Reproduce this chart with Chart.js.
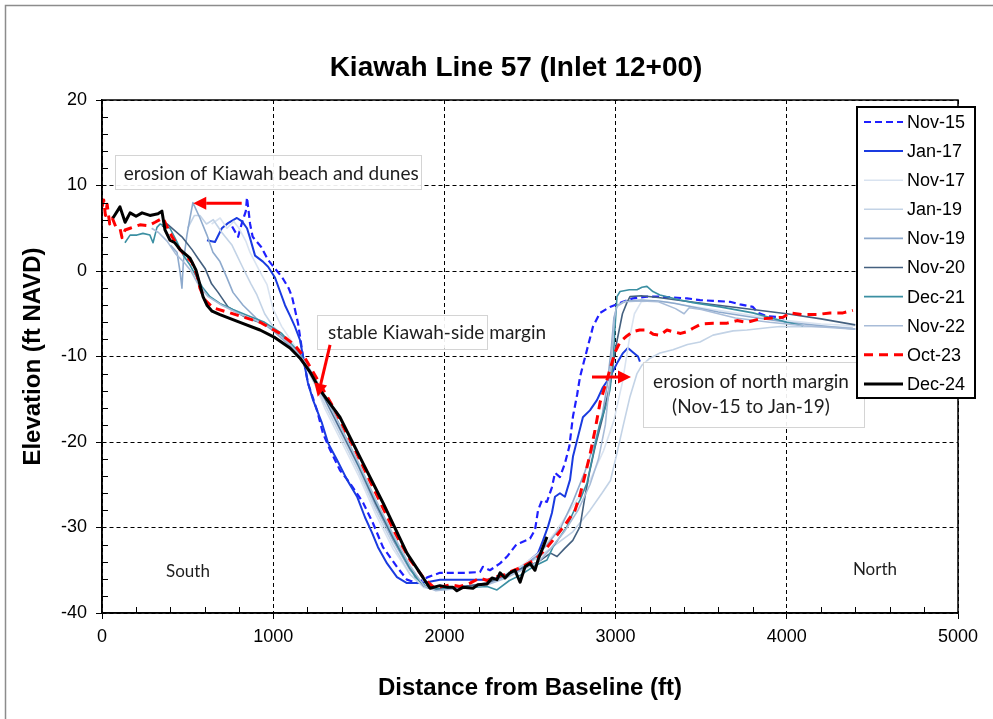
<!DOCTYPE html>
<html>
<head>
<meta charset="utf-8">
<script src="https://cdn.jsdelivr.net/npm/chart.js@4.4.1/dist/chart.umd.min.js"></script>
<style>
  html, body { margin: 0; padding: 0; background: #fff; }
  canvas { display: block; }
</style>
</head>
<body>
<canvas id="profile" width="993" height="719"></canvas>
<script>
// Survey names, in legend order
const surveys = ['Nov-15', 'Jan-17', 'Nov-17', 'Jan-19', 'Nov-19', 'Nov-20', 'Dec-21', 'Nov-22', 'Oct-23', 'Dec-24'];

// Axis tick values
const xTickValues = [0, 1000, 2000, 3000, 4000, 5000];
const yTickValues = [-40, -30, -20, -10, 0, 10, 20];

// Profiles: [distance from baseline (ft), elevation (ft NAVD)]
const nov15 = [[760,5.2],[795,4.0],[820,5.8],[840,7.0],[847,8.6],[865,5.5],[880,4.0],[930,2.8],[970,1.3],[1010,0.3],[1051,-0.7],[1090,-2.0],[1110,-3.0],[1145,-6.1],[1174,-10.0],[1203,-13.1],[1256,-16.3],[1291,-19.0],[1332,-20.9],[1390,-23.3],[1448,-24.8],[1525,-27.1],[1583,-29.5],[1641,-32.3],[1723,-34.6],[1781,-36.1],[1840,-36.5],[1904,-35.8],[1974,-35.3],[2050,-35.3],[2132,-35.3],[2208,-35.2],[2225,-34.6],[2266,-35.0],[2325,-34.2],[2366,-33.4],[2420,-32.0],[2442,-31.8],[2500,-31.3],[2529,-30.3],[2547,-28.0],[2570,-26.8],[2599,-27.0],[2628,-25.3],[2646,-23.6],[2675,-24.1],[2704,-22.5],[2730,-20.5],[2751,-17.0],[2775,-14.5],[2792,-12.4],[2833,-9.2],[2868,-6.5],[2909,-4.9],[2967,-4.2],[3043,-3.6],[3101,-3.2],[3183,-3.0],[3259,-3.0],[3340,-3.1],[3417,-3.2],[3493,-3.4],[3569,-3.5],[3668,-3.6],[3727,-3.9],[3802,-4.2],[3832,-4.9],[3884,-5.3],[3960,-5.4],[4000,-6.1]];
const jan17 = [[613,3.6],[660,3.4],[700,5.0],[736,5.6],[788,6.2],[818,5.8],[847,5.0],[864,3.9],[894,1.8],[940,1.1],[970,0.5],[1011,-0.8],[1040,-2.4],[1069,-4.0],[1100,-5.3],[1127,-6.5],[1157,-8.1],[1174,-10.0],[1203,-13.1],[1233,-15.1],[1285,-17.8],[1320,-20.1],[1373,-22.1],[1431,-24.4],[1490,-26.4],[1536,-28.8],[1577,-30.6],[1612,-32.3],[1665,-34.2],[1723,-35.8],[1781,-36.5],[1840,-36.5],[1898,-36.4],[1974,-36.1],[2050,-36.1],[2132,-36.1],[2249,-36.1],[2325,-35.9],[2383,-35.3],[2442,-35.0],[2500,-33.8],[2547,-33.0],[2576,-31.5],[2605,-29.9],[2628,-28.3],[2646,-26.4],[2675,-26.0],[2704,-26.4],[2734,-24.4],[2751,-21.7],[2780,-19.4],[2809,-17.1],[2850,-16.3],[2891,-15.1],[2926,-13.6],[2967,-12.4],[3008,-10.8],[3043,-9.6],[3072,-9.0],[3101,-9.5],[3131,-10.0],[3142,-10.6]];
const nov17 = [[640,5.5],[690,6.2],[730,5.0],[770,5.8],[800,5.0],[840,3.5],[864,2.2],[900,0.8],[923,-0.1],[964,-1.6],[1000,-4.5],[1050,-6.5],[1100,-8.0],[1150,-9.5],[1200,-11.5],[1250,-13.5],[1300,-16.0],[1400,-20.0],[1500,-24.0],[1600,-28.5],[1700,-32.5],[1800,-35.5],[1880,-36.8],[1950,-37.2],[2050,-37.0],[2150,-36.8],[2250,-36.5],[2350,-35.5],[2450,-34.5],[2550,-33.0],[2650,-30.5],[2750,-27.5],[2850,-24.5],[2930,-21.0],[2990,-17.5],[3040,-13.0],[3080,-8.0],[3110,-5.0],[3150,-3.6],[3200,-3.5],[3300,-3.6],[3400,-4.0],[3600,-4.6],[3800,-5.2],[4000,-5.8],[4200,-6.2],[4400,-6.4]];
const jan19 = [[500,5.0],[540,6.5],[572,6.5],[610,5.5],[650,6.0],[700,4.5],[760,3.0],[820,0.5],[870,-1.5],[905,-2.8],[950,-5.0],[1000,-6.5],[1100,-8.5],[1200,-11.5],[1300,-15.5],[1400,-19.5],[1500,-23.5],[1600,-28.0],[1700,-32.0],[1800,-35.5],[1880,-37.0],[1960,-37.3],[2050,-37.2],[2150,-37.0],[2250,-36.5],[2350,-35.8],[2450,-34.5],[2550,-33.5],[2650,-32.0],[2750,-30.5],[2850,-28.0],[2920,-26.0],[2970,-24.5],[3008,-21.3],[3043,-18.2],[3084,-14.7],[3125,-12.0],[3154,-11.0],[3201,-10.2],[3259,-9.6],[3335,-9.2],[3420,-8.6],[3493,-8.3],[3569,-7.5],[3686,-7.0],[3767,-6.9],[3900,-6.6],[3960,-6.5],[4153,-6.5],[4386,-6.6]];
const nov19 = [[400,3.0],[438,2.2],[456,-0.1],[467,-2.0],[475,1.0],[496,4.2],[514,6.2],[531,8.0],[572,6.2],[613,4.2],[648,2.2],[689,1.1],[730,-0.8],[765,-2.5],[824,-4.0],[900,-5.5],[1000,-7.0],[1100,-8.8],[1200,-11.5],[1300,-15.0],[1400,-19.0],[1500,-23.0],[1600,-27.5],[1700,-31.5],[1800,-35.0],[1880,-36.8],[1950,-37.3],[2050,-37.1],[2150,-36.9],[2250,-36.6],[2350,-35.8],[2450,-34.8],[2530,-33.5],[2600,-32.0],[2680,-30.0],[2750,-27.0],[2820,-23.5],[2880,-20.0],[2920,-17.0],[2950,-13.5],[2975,-9.0],[2990,-5.5],[3010,-4.0],[3060,-3.5],[3150,-3.4],[3250,-3.5],[3350,-3.8],[3450,-4.2],[3600,-4.8],[3800,-5.4],[4000,-6.0],[4200,-6.4],[4400,-6.8]];
const nov20 = [[350,5.2],[380,5.5],[420,4.8],[467,4.0],[526,2.5],[560,1.5],[602,0.3],[640,-1.5],[678,-2.5],[736,-4.2],[835,-5.4],[935,-6.1],[1011,-6.9],[1100,-8.5],[1200,-11.3],[1300,-14.8],[1400,-18.8],[1500,-22.8],[1600,-27.2],[1700,-31.2],[1800,-34.8],[1880,-36.8],[1950,-37.2],[2050,-37.0],[2150,-36.8],[2250,-36.5],[2350,-35.6],[2450,-34.8],[2550,-34.0],[2620,-33.0],[2658,-33.4],[2700,-32.5],[2750,-31.5],[2792,-29.9],[2821,-26.4],[2850,-23.3],[2880,-20.6],[2926,-17.0],[2970,-13.0],[3000,-9.0],[3040,-5.0],[3066,-3.7],[3084,-3.0],[3150,-2.9],[3250,-3.1],[3400,-3.5],[3600,-4.0],[3800,-4.5],[4000,-5.0],[4200,-5.6],[4400,-6.3]];
const dec21 = [[134,3.3],[164,4.2],[204,4.2],[239,4.4],[280,4.2],[298,3.3],[321,5.1],[339,5.5],[397,5.0],[438,3.4],[473,1.9],[514,0.7],[555,-0.8],[590,-2.0],[631,-3.0],[689,-3.8],[765,-4.5],[850,-5.2],[950,-6.0],[1050,-7.3],[1150,-9.5],[1250,-12.8],[1350,-16.5],[1450,-20.5],[1550,-24.8],[1650,-29.0],[1750,-33.0],[1830,-35.8],[1900,-37.0],[1960,-37.2],[2050,-37.1],[2150,-37.0],[2250,-36.9],[2307,-37.3],[2380,-36.2],[2442,-35.6],[2518,-34.6],[2599,-33.8],[2634,-32.3],[2675,-31.1],[2716,-29.9],[2751,-28.3],[2792,-26.8],[2833,-24.8],[2868,-21.5],[2909,-17.8],[2950,-15.4],[2967,-13.9],[2985,-10.8],[2997,-6.5],[3008,-3.0],[3026,-2.4],[3080,-2.2],[3125,-2.2],[3154,-1.9],[3183,-1.8],[3218,-2.4],[3259,-2.8],[3376,-3.4],[3452,-3.7],[3610,-4.2],[3802,-4.9],[4000,-6.0],[4095,-6.4]];
const nov22 = [[290,5.0],[330,4.5],[380,3.5],[430,2.0],[480,1.0],[520,0.0],[560,-1.5],[620,-3.0],[700,-4.0],[800,-5.0],[900,-5.8],[1000,-6.8],[1100,-8.6],[1200,-11.0],[1300,-14.6],[1400,-18.5],[1500,-22.5],[1600,-26.8],[1700,-30.8],[1800,-34.5],[1880,-36.8],[1950,-37.4],[2050,-37.2],[2150,-37.0],[2250,-36.7],[2350,-36.0],[2450,-35.0],[2550,-34.0],[2620,-32.5],[2700,-30.5],[2780,-28.0],[2850,-25.0],[2900,-22.0],[2940,-18.0],[2970,-12.0],[2990,-6.0],[3005,-4.2],[3050,-3.6],[3150,-3.5],[3250,-3.6],[3350,-4.4],[3400,-5.0],[3430,-4.3],[3500,-4.5],[3700,-5.5],[3900,-6.0],[4100,-6.4],[4400,-6.8]];
const oct23 = [[0,7.5],[10,8.3],[20,6.5],[30,7.8],[45,5.5],[60,6.2],[80,5.2],[105,5.0],[117,3.9],[135,4.8],[164,5.0],[222,5.4],[270,5.3],[310,5.7],[356,6.2],[380,5.2],[409,4.0],[456,2.5],[526,1.0],[555,-0.5],[572,-2.0],[602,-3.4],[648,-4.3],[748,-4.9],[923,-6.0],[1040,-7.3],[1127,-8.7],[1186,-10.2],[1244,-12.2],[1361,-16.3],[1478,-20.9],[1595,-25.8],[1711,-30.6],[1800,-33.8],[1887,-36.1],[1945,-37.1],[2033,-36.7],[2090,-36.9],[2150,-36.5],[2208,-35.9],[2250,-36.2],[2296,-35.8],[2340,-35.6],[2383,-35.2],[2430,-34.8],[2471,-34.4],[2529,-33.8],[2588,-32.6],[2646,-31.2],[2704,-29.7],[2763,-28.0],[2792,-26.2],[2821,-23.9],[2850,-21.5],[2880,-18.6],[2909,-15.4],[2950,-12.7],[2997,-9.5],[3026,-8.3],[3066,-7.6],[3101,-7.1],[3140,-6.9],[3183,-6.9],[3220,-7.4],[3259,-7.5],[3300,-6.9],[3335,-7.1],[3380,-7.3],[3417,-7.1],[3452,-6.7],[3500,-6.2],[3569,-6.1],[3610,-6.1],[3651,-6.1],[3709,-5.8],[3767,-6.0],[3843,-5.6],[3919,-5.5],[3978,-5.4],[4019,-4.9],[4095,-5.1],[4176,-5.1],[4252,-4.9],[4328,-4.9],[4386,-4.6]];
const dec24 = [[64,6.2],[105,7.5],[135,5.7],[164,6.8],[199,6.4],[234,6.8],[280,6.5],[327,6.7],[350,7.0],[368,4.8],[397,3.6],[426,3.3],[456,2.5],[514,1.5],[549,0.1],[572,-1.6],[590,-3.0],[613,-4.0],[643,-4.7],[689,-5.1],[806,-6.0],[923,-6.9],[1011,-7.8],[1098,-9.0],[1157,-10.2],[1215,-11.8],[1273,-13.9],[1390,-17.1],[1525,-22.5],[1641,-27.1],[1781,-33.0],[1857,-35.3],[1916,-37.1],[1974,-36.8],[2020,-37.0],[2050,-37.0],[2073,-37.4],[2108,-37.0],[2167,-37.1],[2196,-36.7],[2249,-36.6],[2278,-35.9],[2307,-36.1],[2325,-35.3],[2354,-35.9],[2383,-35.3],[2412,-35.0],[2442,-36.4],[2471,-34.6],[2500,-34.2],[2529,-35.0],[2547,-33.8],[2576,-32.3],[2599,-31.1]];

const profiles = [nov15, jan17, nov17, jan19, nov19, nov20, dec21, nov22, oct23, dec24];

// Line styles per survey
const lineStyles = [
  { color: '#1f1fff', width: 2.2, dash: [7, 4] },
  { color: '#1a3be0', width: 2.0, dash: [] },
  { color: '#d9e3f0', width: 1.6, dash: [] },
  { color: '#c3d3e6', width: 1.6, dash: [] },
  { color: '#8eaacd', width: 1.6, dash: [] },
  { color: '#44607f', width: 1.6, dash: [] },
  { color: '#3b8fa2', width: 1.6, dash: [] },
  { color: '#a8bcd8', width: 1.6, dash: [] },
  { color: '#ff0000', width: 3.0, dash: [9, 6] },
  { color: '#000000', width: 3.0, dash: [] }
];

// Callout notes, positioned in data units
const notes = [
  { box: [76, 1863, 13.6, 9.6], lines: ['erosion of Kiawah beach and dunes'], at: [988, 11.35], align: 'center' },
  { box: [1256, 2249, -5.15, -9.1], lines: ['stable Kiawah-side margin'], at: [1320, -7.25], align: 'left' },
  { box: [3160, 4451, -10.6, -18.25], lines: ['erosion of north margin', '(Nov-15 to Jan-19)'], at: [3791, -13.0], align: 'center' }
];
const arrows = [
  { from: [816, 7.92], to: [533, 7.92] },
  { from: [1332, -8.65], to: [1260, -14.7] },
  { from: [2862, -12.4], to: [3090, -12.4] }
];
const sideLabels = [
  { text: 'South', at: [502, -35.2] },
  { text: 'North', at: [4515, -34.9] }
];

const AXIS_FONT = '"Liberation Sans", Arial, sans-serif';
const NOTE_FONT = 'Lato, "Open Sans", sans-serif';

const datasets = surveys.map((name, i) => ({
  label: name,
  data: profiles[i].map(p => ({ x: p[0], y: p[1] })),
  showLine: true,
  fill: false,
  borderColor: lineStyles[i].color,
  backgroundColor: lineStyles[i].color,
  borderWidth: lineStyles[i].width,
  borderDash: lineStyles[i].dash,
  borderJoinStyle: 'round',
  pointRadius: 0,
  tension: 0,
  order: surveys.length - 1 - i
}));

function drawArrow(ctx, x1, y1, x2, y2) {
  const ang = Math.atan2(y2 - y1, x2 - x1);
  const headLen = 13, headHalf = 6.5;
  const bx = x2 - headLen * Math.cos(ang), by = y2 - headLen * Math.sin(ang);
  ctx.beginPath();
  ctx.moveTo(x1, y1);
  ctx.lineTo(bx, by);
  ctx.stroke();
  ctx.beginPath();
  ctx.moveTo(x2, y2);
  ctx.lineTo(bx + headHalf * Math.sin(ang), by - headHalf * Math.cos(ang));
  ctx.lineTo(bx - headHalf * Math.sin(ang), by + headHalf * Math.cos(ang));
  ctx.closePath();
  ctx.fill();
}

const decorations = {
  id: 'decorations',
  beforeDraw(chart) {
    const ctx = chart.ctx;
    ctx.save();
    ctx.fillStyle = '#ffffff';
    ctx.fillRect(0, 0, chart.width, chart.height);
    ctx.strokeStyle = '#8c8c8c';
    ctx.lineWidth = 1.5;
    ctx.beginPath();
    ctx.moveTo(5.5, chart.height);
    ctx.lineTo(5.5, 5.5);
    ctx.lineTo(chart.width, 5.5);
    ctx.stroke();
    ctx.restore();
  },
  afterDraw(chart) {
    const ctx = chart.ctx;
    const xs = chart.scales.x, ys = chart.scales.y;
    const area = chart.chartArea;
    const X = v => xs.getPixelForValue(v);
    const Y = v => ys.getPixelForValue(v);
    ctx.save();

    // plot frame
    ctx.strokeStyle = '#000';
    ctx.lineWidth = 1.5;
    ctx.strokeRect(area.left, area.top, area.right - area.left, area.bottom - area.top);

    // minor ticks
    ctx.lineWidth = 1;
    ctx.beginPath();
    for (let v = 200; v < 5000; v += 200) {
      if (v % 1000 === 0) continue;
      const px = Math.round(X(v)) + 0.5;
      ctx.moveTo(px, area.bottom);
      ctx.lineTo(px, area.bottom - 6);
    }
    for (let v = -38; v < 20; v += 2) {
      if (v % 10 === 0) continue;
      const py = Math.round(Y(v)) + 0.5;
      ctx.moveTo(area.left, py);
      ctx.lineTo(area.left + 6, py);
    }
    ctx.stroke();

    // chart title
    ctx.fillStyle = '#000';
    ctx.font = 'bold 28px ' + AXIS_FONT;
    ctx.textAlign = 'center';
    ctx.textBaseline = 'middle';
    ctx.fillText('Kiawah Line 57 (Inlet 12+00)', (area.left + area.right) / 2 - 14, 68);

    // callout boxes
    ctx.font = '19px ' + NOTE_FONT;
    notes.forEach(n => {
      const x0 = X(n.box[0]), x1 = X(n.box[1]), y0 = Y(n.box[2]), y1 = Y(n.box[3]);
      ctx.fillStyle = 'rgba(255,255,255,0.92)';
      ctx.fillRect(x0, y0, x1 - x0, y1 - y0);
      ctx.strokeStyle = '#d4d4d4';
      ctx.lineWidth = 1;
      ctx.strokeRect(Math.round(x0) + 0.5, Math.round(y0) + 0.5, Math.round(x1 - x0), Math.round(y1 - y0));
      ctx.fillStyle = '#1e1e1e';
      ctx.textAlign = n.align;
      n.lines.forEach((t, k) => ctx.fillText(t, X(n.at[0]), Y(n.at[1]) + k * 25));
    });

    // red arrows
    ctx.strokeStyle = '#ff0000';
    ctx.fillStyle = '#ff0000';
    ctx.lineWidth = 3;
    arrows.forEach(a => drawArrow(ctx, X(a.from[0]), Y(a.from[1]), X(a.to[0]), Y(a.to[1])));

    // South / North
    ctx.fillStyle = '#1e1e1e';
    ctx.textAlign = 'center';
    ctx.font = '17px ' + NOTE_FONT;
    sideLabels.forEach(s => ctx.fillText(s.text, X(s.at[0]), Y(s.at[1])));

    // legend
    const L = area.right - 101, T = area.top + 7, W = 118, H = 291;
    ctx.fillStyle = '#fff';
    ctx.fillRect(L, T, W, H);
    ctx.strokeStyle = '#000';
    ctx.lineWidth = 2;
    ctx.strokeRect(L, T, W, H);
    ctx.font = '18px ' + AXIS_FONT;
    ctx.textAlign = 'left';
    chart.data.datasets.forEach((ds, i) => {
      const cy = T + 15 + i * 29.1;
      ctx.save();
      ctx.strokeStyle = ds.borderColor;
      ctx.lineWidth = ds.borderWidth;
      ctx.setLineDash(ds.borderDash || []);
      ctx.beginPath();
      ctx.moveTo(L + 7, cy);
      ctx.lineTo(L + 46, cy);
      ctx.stroke();
      ctx.restore();
      ctx.fillStyle = '#000';
      ctx.fillText(ds.label, L + 50, cy + 1);
    });
    ctx.restore();
  }
};

new Chart(document.getElementById('profile'), {
  type: 'scatter',
  data: { datasets },
  options: {
    responsive: false,
    animation: false,
    events: [],
    layout: { padding: { left: 0, top: 100, right: 35, bottom: 0 } },
    plugins: { legend: { display: false }, tooltip: { enabled: false }, title: { display: false } },
    scales: {
      x: {
        type: 'linear', min: 0, max: 5000,
        afterBuildTicks: s => { s.ticks = xTickValues.map(v => ({ value: v })); },
        afterFit: s => { s.height = 106; },
        ticks: { color: '#000', font: { family: AXIS_FONT, size: 18 }, padding: 7, maxRotation: 0, callback: v => String(v) },
        grid: { color: '#000', lineWidth: 1, drawTicks: true, tickLength: 6, tickColor: '#000', tickWidth: 1 },
        border: { display: true, color: '#000', width: 1.5, dash: [4, 3] },
        title: { display: true, text: 'Distance from Baseline (ft)', color: '#000', font: { family: AXIS_FONT, size: 24, weight: 'bold' }, padding: { top: 0, bottom: 16 } }
      },
      y: {
        type: 'linear', min: -40, max: 20,
        afterBuildTicks: s => { s.ticks = yTickValues.map(v => ({ value: v })); },
        afterFit: s => { s.width = 102; },
        ticks: { color: '#000', font: { family: AXIS_FONT, size: 18 }, padding: 9, callback: v => String(v) },
        grid: { color: '#000', lineWidth: 1, drawTicks: true, tickLength: 6, tickColor: '#000', tickWidth: 1 },
        border: { display: true, color: '#000', width: 1.5, dash: [4, 3] },
        title: { display: true, text: 'Elevation (ft NAVD)', color: '#000', font: { family: AXIS_FONT, size: 24, weight: 'bold' }, padding: { top: 19, bottom: 0 } }
      }
    }
  },
  plugins: [decorations]
});
</script>
</body>
</html>
